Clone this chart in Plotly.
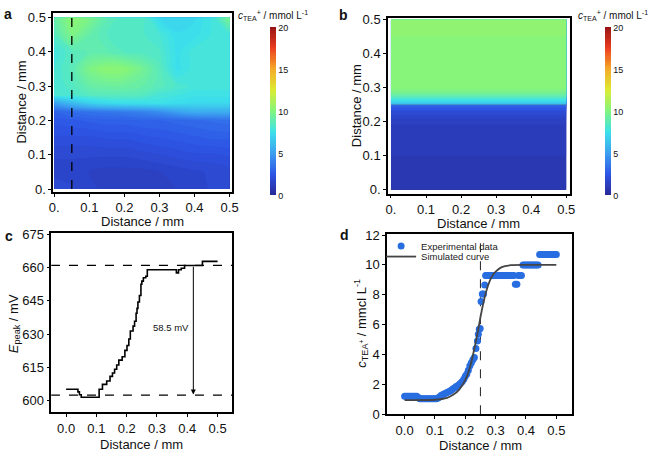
import plotly.graph_objects as go

W, H = 649, 459
FONT = "Arial, Liberation Sans, sans-serif"

# ---------------- Panel a: measured concentration map ----------------
a_x = [0.0, 0.05, 0.1, 0.15, 0.2, 0.25, 0.3, 0.35, 0.4, 0.45, 0.5]
a_y = [0.0, 0.05, 0.1, 0.15, 0.2, 0.225, 0.25, 0.275, 0.3, 0.35, 0.4, 0.45, 0.5]
a_z = [
    [2.0, 1.8, 1.6, 1.4, 1.3, 1.3, 1.4, 1.5, 1.6, 1.8, 2.0],
    [1.6, 1.6, 1.5, 1.4, 1.4, 1.4, 1.5, 1.6, 1.7, 1.8, 1.9],
    [1.8, 1.8, 1.8, 1.8, 1.8, 1.9, 2.0, 2.1, 2.2, 2.2, 2.3],
    [2.2, 2.2, 2.2, 2.3, 2.3, 2.4, 2.5, 2.6, 2.7, 2.8, 2.8],
    [2.6, 2.7, 2.8, 2.9, 2.9, 3.0, 3.0, 3.1, 3.2, 3.3, 3.4],
    [3.0, 3.3, 3.5, 3.6, 3.8, 4.0, 4.4, 5.0, 5.5, 5.5, 5.5],
    [5.0, 6.0, 6.8, 7.2, 7.4, 7.4, 7.5, 7.3, 7.2, 7.2, 7.2],
    [8.0, 8.2, 8.5, 8.6, 8.6, 8.5, 8.0, 7.8, 7.6, 7.6, 7.6],
    [8.0, 8.4, 9.0, 9.2, 9.2, 9.0, 8.6, 8.2, 7.9, 7.9, 7.9],
    [8.0, 8.6, 9.8, 10.3, 10.2, 9.5, 8.6, 7.4, 7.9, 8.0, 7.8],
    [7.8, 8.5, 8.8, 8.8, 8.5, 8.4, 8.3, 7.4, 7.9, 8.0, 7.8],
    [8.5, 9.8, 9.0, 8.5, 8.5, 8.3, 8.0, 7.3, 7.4, 7.8, 8.0],
    [9.0, 10.3, 9.8, 8.8, 8.3, 8.5, 7.2, 7.0, 7.2, 7.8, 9.8],
]

# ---------------- Panel b: simulated concentration map ----------------
b_x = [0.0, 0.5]
b_y = [0.0, 0.1, 0.18, 0.21, 0.23, 0.245, 0.2495, 0.2505, 0.26, 0.27, 0.28, 0.29, 0.3, 0.5]
b_profile = [1.0, 1.0, 1.1, 1.5, 2.0, 2.8, 3.3, 6.0, 7.2, 8.3, 9.2, 9.8, 10.1, 10.3]

# ---------------- Panel c: peak potential ----------------
c_x = [0.000, 0.039, 0.044, 0.050, 0.109, 0.120, 0.134, 0.145, 0.153, 0.160,
       0.167, 0.174, 0.185, 0.194, 0.201, 0.207, 0.212, 0.221, 0.226, 0.231,
       0.234, 0.237, 0.242, 0.247, 0.250, 0.255, 0.263, 0.268, 0.364, 0.371,
       0.380, 0.391, 0.450, 0.500]
c_E = [605.2, 604.0, 602.7, 601.6, 605.2, 607.4, 608.9, 611.0, 612.5, 614.2,
       616.1, 618.3, 619.8, 622.7, 624.9, 627.8, 631.4, 633.6, 635.8, 639.4,
       641.6, 644.5, 647.4, 652.5, 653.9, 655.4, 656.1, 659.0, 657.6, 659.0,
       659.7, 660.9, 662.8, 662.8]
c_levels = [602.5, 661.0]
c_label = "58.5 mV"

# ---------------- Panel d: concentration profile ----------------
d_x = [0.000, 0.005, 0.010, 0.015, 0.020, 0.025, 0.030, 0.035, 0.040, 0.045,
       0.050, 0.055, 0.060, 0.065, 0.070, 0.075, 0.080, 0.085, 0.090, 0.095,
       0.100, 0.105, 0.110, 0.115, 0.120, 0.125, 0.130, 0.135, 0.140, 0.145,
       0.150, 0.155, 0.160, 0.165, 0.170, 0.175, 0.180, 0.185, 0.190, 0.195,
       0.200, 0.205, 0.210, 0.215, 0.220, 0.225, 0.230, 0.235, 0.240, 0.243,
       0.246, 0.249, 0.252, 0.256, 0.260, 0.264, 0.267, 0.270, 0.275, 0.280,
       0.285, 0.290, 0.295, 0.300, 0.305, 0.310, 0.315, 0.320, 0.325, 0.330,
       0.335, 0.340, 0.345, 0.350, 0.355, 0.360, 0.365, 0.370, 0.375, 0.380,
       0.385, 0.390, 0.395, 0.400, 0.405, 0.410, 0.415, 0.420, 0.425, 0.430,
       0.435, 0.440, 0.445, 0.450, 0.455, 0.460, 0.465, 0.470, 0.475, 0.480,
       0.485, 0.490, 0.495, 0.500]
d_y = [1.20, 1.20, 1.20, 1.20, 1.20, 1.20, 1.20, 1.20, 1.20, 1.12,
       1.03, 1.03, 1.03, 1.03, 1.03, 1.03, 1.03, 1.03, 1.03, 1.03,
       1.03, 1.03, 1.08, 1.15, 1.25, 1.30, 1.35, 1.40, 1.45, 1.50,
       1.55, 1.62, 1.70, 1.78, 1.85, 1.90, 2.00, 2.10, 2.20, 2.35,
       2.55, 2.70, 2.95, 3.25, 3.45, 3.65, 3.80, 4.40, 4.90, 5.35,
       5.70, 5.75, 7.55, 8.05, 8.05, 8.65, 9.30, 9.30, 9.30, 9.30,
       9.30, 9.30, 9.30, 9.30, 9.30, 9.30, 9.30, 9.30, 9.30, 9.30,
       9.30, 9.30, 9.30, 9.30, 9.30, 9.30, 8.70, 8.70, 9.30, 9.30,
       9.30, 10.00, 10.00, 10.00, 10.00, 10.00, 10.00, 10.00, 10.00, 10.00,
       10.00, 10.00, 10.70, 10.70, 10.70, 10.70, 10.70, 10.70, 10.70, 10.70,
       10.70, 10.70, 10.70, 10.70]
sim_x = [0.0, 0.1, 0.14, 0.16, 0.18, 0.2, 0.21, 0.22, 0.23, 0.24, 0.25, 0.26,
         0.27, 0.28, 0.29, 0.30, 0.32, 0.35, 0.4, 0.5]
sim_y = [0.95, 0.97, 1.1, 1.3, 1.65, 2.3, 2.8, 3.5, 4.4, 5.4, 6.5, 7.5,
         8.3, 8.9, 9.3, 9.55, 9.85, 9.98, 10.0, 10.0]
d_vline = 0.25

# tick labels
map_ticks = [0.0, 0.1, 0.2, 0.3, 0.4, 0.5]
map_ticktext = ["0.", "0.1", "0.2", "0.3", "0.4", "0.5"]
line_ticktext = ["0.0", "0.1", "0.2", "0.3", "0.4", "0.5"]
cbar_ticks = [0, 5, 10, 15, 20]
c_yticks = [600, 615, 630, 645, 660, 675]
d_yticks = [0, 2, 4, 6, 8, 10, 12]

cscale = [
    [0.0, "rgb(40,40,150)"],
    [0.125, "rgb(45,85,230)"],
    [0.25, "rgb(60,160,240)"],
    [0.375, "rgb(60,225,235)"],
    [0.5, "rgb(130,245,125)"],
    [0.625, "rgb(220,235,50)"],
    [0.75, "rgb(245,170,40)"],
    [0.875, "rgb(235,60,30)"],
    [1.0, "rgb(150,20,20)"],
]


def px(x):
    return x / W


def py(y):
    return 1 - y / H


def cbar(xpix):
    return dict(x=px(xpix), xanchor="left", y=py(108), yanchor="middle",
                lenmode="pixels", len=168, thicknessmode="pixels", thickness=6,
                tickvals=cbar_ticks, ticks="", outlinewidth=0, xpad=0, ypad=0,
                tickfont=dict(size=9, family=FONT, color="#111"))


fig = go.Figure()

fig.add_trace(go.Contour(
    x=a_x, y=a_y, z=a_z, colorscale=cscale, zmin=0, zmax=20, zauto=False,
    contours=dict(start=0, end=20, size=0.25, coloring="fill", showlines=False),
    line=dict(width=0), colorbar=cbar(270), xaxis="x", yaxis="y", showlegend=False))

b_z = [[v, v] for v in b_profile]
fig.add_trace(go.Contour(
    x=b_x, y=b_y, z=b_z, colorscale=cscale, zmin=0, zmax=20, zauto=False,
    contours=dict(start=0, end=20, size=0.25, coloring="fill", showlines=False),
    line=dict(width=0), colorbar=cbar(610), xaxis="x2", yaxis="y2", showlegend=False))

# panel a dashed line
fig.add_trace(go.Scatter(x=[0.05, 0.05], y=[0.0, 0.5], mode="lines",
                         line=dict(color="black", width=1.3, dash="dash"),
                         xaxis="x", yaxis="y", showlegend=False, hoverinfo="skip"))
# panel b thin boundary
fig.add_trace(go.Scatter(x=[0.0, 0.5], y=[0.25, 0.25], mode="lines",
                         line=dict(color="rgba(70,100,150,0.6)", width=0.8),
                         xaxis="x2", yaxis="y2", showlegend=False, hoverinfo="skip"))

# panel c
for lv in c_levels:
    fig.add_trace(go.Scatter(x=[-0.05, 0.55], y=[lv, lv], mode="lines",
                             line=dict(color="black", width=1.2, dash="dash"),
                             xaxis="x3", yaxis="y3", showlegend=False, hoverinfo="skip"))
fig.add_trace(go.Scatter(x=c_x, y=c_E, mode="lines", line_shape="hv",
                         line=dict(color="black", width=1.6),
                         xaxis="x3", yaxis="y3", showlegend=False))

# panel d
fig.add_trace(go.Scatter(x=[d_vline, d_vline], y=[0, 12], mode="lines",
                         line=dict(color="#333", width=1.1, dash="dash"),
                         xaxis="x4", yaxis="y4", showlegend=False, hoverinfo="skip"))
fig.add_trace(go.Scatter(x=d_x, y=d_y, mode="markers", name="Experimental data",
                         marker=dict(color="rgb(40,110,225)", size=7),
                         xaxis="x4", yaxis="y4", legend="legend"))
fig.add_trace(go.Scatter(x=sim_x, y=sim_y, mode="lines", name="Simulated curve",
                         line=dict(color="#444", width=1.8, shape="spline", smoothing=0.8),
                         xaxis="x4", yaxis="y4", legend="legend2"))

axis_common = dict(showline=True, mirror=True, linecolor="black", linewidth=1.5,
                   ticks="outside", ticklen=3, tickwidth=1.2, tickcolor="black",
                   showgrid=False, zeroline=False,
                   tickfont=dict(size=13, family=FONT, color="#111"))

leg_common = dict(xanchor="left", yanchor="middle", bgcolor="rgba(0,0,0,0)",
                  font=dict(size=9.5, family=FONT, color="#222"),
                  itemwidth=30, borderwidth=0)

fig.update_layout(
    width=W, height=H, margin=dict(l=0, r=0, t=0, b=0),
    paper_bgcolor="white", plot_bgcolor="white",
    font=dict(family=FONT, color="#111"),
    xaxis=dict(domain=[px(50), px(232)], range=[-0.003, 0.508], anchor="y",
               tickvals=map_ticks, ticktext=map_ticktext, **axis_common),
    yaxis=dict(domain=[py(191), py(6)], range=[-0.008, 0.514], anchor="x",
               tickvals=map_ticks, ticktext=map_ticktext, **axis_common),
    xaxis2=dict(domain=[px(390), px(575)], range=[-0.0084, 0.511], anchor="y2",
                tickvals=map_ticks, ticktext=map_ticktext, **axis_common),
    yaxis2=dict(domain=[py(193), py(11)], range=[-0.0114, 0.5057], anchor="x2",
                tickvals=map_ticks, ticktext=map_ticktext, **axis_common),
    xaxis3=dict(domain=[px(48), px(232)], range=[-0.049, 0.549], anchor="y3",
                tickvals=map_ticks, ticktext=line_ticktext, **axis_common),
    yaxis3=dict(domain=[py(419), py(234)], range=[594.8, 675.4], anchor="x3",
                tickvals=c_yticks, **axis_common),
    xaxis4=dict(domain=[px(389), px(577)], range=[-0.058, 0.552], anchor="y4",
                tickvals=map_ticks, ticktext=line_ticktext, **axis_common),
    yaxis4=dict(domain=[py(421), py(235)], range=[0, 12.05], anchor="x4",
                tickvals=d_yticks, **axis_common),
    legend=dict(x=px(383), y=py(247), **leg_common),
    legend2=dict(x=px(383), y=py(258), **leg_common),
)

ann = []


def text(x, y, s, size=13, angle=0, xanchor="center"):
    ann.append(dict(x=px(x), y=py(y), xref="paper", yref="paper", text=s,
                    showarrow=False, textangle=angle, xanchor=xanchor, yanchor="middle",
                    font=dict(size=size, family=FONT, color="#111")))


# panel letters
text(4, 7, "<b>a</b>", 14)
text(345, 8, "<b>b</b>", 14)
text(5, 237, "<b>c</b>", 14)
text(346, 236, "<b>d</b>", 14)
# axis titles
text(141, 222, "Distance / mm")
text(482, 224, "Distance / mm")
text(140, 452, "Distance / mm")
text(484, 453, "Distance / mm")
text(18, 98, "Distance / mm", angle=-90)
text(358, 102, "Distance / mm", angle=-90)
text(10, 327, "<i>E</i><sub>peak</sub> / mV", angle=-90)
text(363, 327, "<i>c</i><sub>TEA<sup>+</sup></sub> / mmcl L<sup>-1</sup>", angle=-90)
# colorbar titles
text(273, 9, "<i>c</i><sub>TEA</sub><sup>+</sup> / mmol L<sup>-1</sup>", 10)
text(581, 9, "<i>c</i><sub>TEA</sub><sup>+</sup> / mmol L<sup>-1</sup>", 10, xanchor="left")

# panel c arrow & label
ann.append(dict(x=0.42, y=c_levels[0] + 0.3, ax=0.42, ay=c_levels[1], xref="x3", yref="y3",
                axref="x3", ayref="y3", text="", showarrow=True, arrowhead=2,
                arrowsize=1, arrowwidth=1, arrowcolor="black"))
ann.append(dict(x=0.345, y=633, xref="x3", yref="y3", text=c_label, showarrow=False,
                font=dict(size=9.5, family=FONT, color="#111")))

fig.update_layout(annotations=ann)
fig.write_html("out.html")
